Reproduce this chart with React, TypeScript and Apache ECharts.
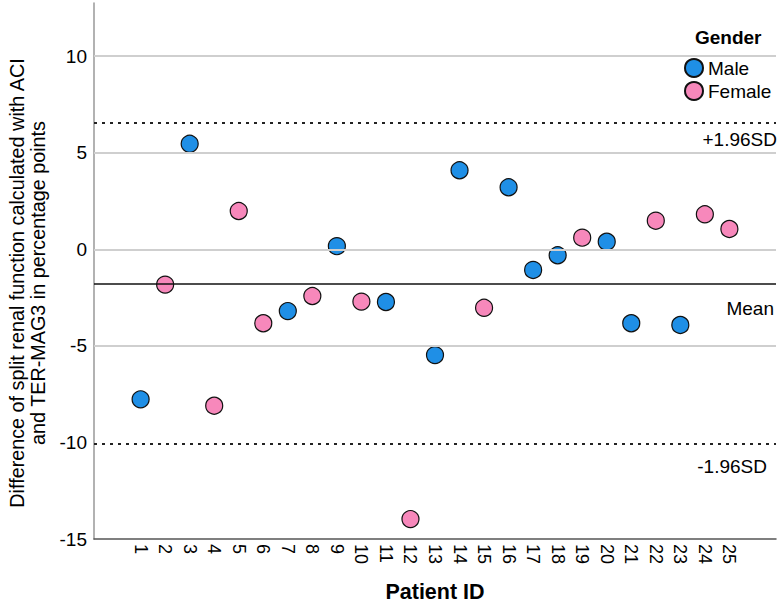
import React, { useEffect, useRef } from "react";
import * as echarts from "echarts";

const patientIds = [1, 2, 3, 4, 5, 6, 7, 8, 9, 10, 11, 12, 13, 14, 15, 16, 17, 18, 19, 20, 21, 22, 23, 24, 25];
const differences = [-7.77, -1.83, 5.46, -8.1, 1.98, -3.83, -3.2, -2.42, 0.16, -2.71, -2.73, -13.97, -5.48, 4.09, -3.03, 3.21, -1.07, -0.31, 0.6, 0.39, -3.83, 1.48, -3.92, 1.81, 1.05];
const genders = ["M", "F", "M", "F", "F", "F", "M", "F", "M", "F", "M", "F", "M", "M", "F", "M", "M", "M", "F", "M", "M", "F", "M", "F", "F"];
const yTicks = [-15, -10, -5, 0, 5, 10];
const gridValues = [10, 5, 0, -5];
const meanDiff = -1.76;
const upperLimit = 6.53;
const lowerLimit = -10.05;

const FONT = "'Liberation Sans', Arial, sans-serif";
const MALE = "#1f8fe6";
const FEMALE = "#f788bb";

export default function App() {
  const ref = useRef<HTMLDivElement>(null);
  useEffect(() => {
    document.body.style.margin = "0";
    if (!ref.current) return;
    const chart = echarts.init(ref.current, undefined, { renderer: "svg" });
    const male = patientIds.map((id, i) => [id, differences[i], genders[i]]).filter((d) => d[2] === "M").map((d) => [d[0], d[1]]);
    const female = patientIds.map((id, i) => [id, differences[i], genders[i]]).filter((d) => d[2] === "F").map((d) => [d[0], d[1]]);
    const pointStyle = (c: string) => ({ color: c, borderColor: "#111", borderWidth: 1.2, opacity: 1 });
    chart.setOption({
      animation: false,
      textStyle: { fontFamily: FONT },
      grid: { left: 94, right: 4, top: 3, bottom: 67, containLabel: false, outerBoundsMode: "none" },
      xAxis: {
        type: "value",
        min: -0.9,
        max: 26.9,
        axisLine: { show: true, onZero: false, lineStyle: { color: "#555", width: 1.5 } },
        axisTick: { show: false },
        splitLine: { show: false },
        axisLabel: { customValues: patientIds, rotate: -90, fontSize: 18, color: "#000", margin: 5, fontFamily: FONT },
        name: "Patient ID",
        nameLocation: "middle",
        nameGap: 42,
        nameTextStyle: { fontSize: 21.5, fontWeight: "bold", color: "#000", fontFamily: FONT },
      },
      yAxis: {
        type: "value",
        min: -15,
        max: 12.75,
        axisLine: { show: true, onZero: false, lineStyle: { color: "#999", width: 1.5 } },
        axisTick: { show: false },
        splitLine: { show: false },
        axisLabel: { customValues: yTicks, fontSize: 19, color: "#000", margin: 7, fontFamily: FONT },
      },
      legend: {
        data: ["Male", "Female"],
        orient: "vertical",
        left: 679,
        top: 53,
        itemWidth: 18,
        itemHeight: 18,
        itemGap: 3,
        icon: "circle",
        textStyle: { fontSize: 19, color: "#000", fontFamily: FONT },
      },
      graphic: [
        {
          type: "text",
          x: 695,
          y: 37,
          style: { text: "Gender", font: `bold 19px ${FONT}`, fill: "#000", textVerticalAlign: "middle" },
        },
        {
          type: "text",
          x: 27,
          y: 283,
          rotation: Math.PI / 2,
          style: {
            text: "Difference of split renal function calculated with ACI\nand TER-MAG3 in percentage points",
            font: `19.8px ${FONT}`,
            fill: "#000",
            textAlign: "center",
            textVerticalAlign: "middle",
            lineHeight: 21,
          },
        },
      ],
      series: [
        {
          type: "scatter",
          name: "grid",
          data: [],
          z: 1,
          silent: true,
          markLine: {
            silent: true,
            symbol: "none",
            animation: false,
            label: { show: false },
            lineStyle: { color: "#cfcfcf", width: 2, type: "solid" },
            data: gridValues.map((v) => ({ yAxis: v })),
          },
        },
        {
          type: "scatter",
          name: "Male",
          data: male,
          symbolSize: 17,
          z: 2,
          itemStyle: pointStyle(MALE),
        },
        {
          type: "scatter",
          name: "Female",
          data: female,
          symbolSize: 17,
          z: 2,
          itemStyle: pointStyle(FEMALE),
        },
        {
          type: "scatter",
          name: "refs",
          data: [],
          z: 3,
          silent: true,
          markLine: {
            silent: true,
            symbol: "none",
            animation: false,
            label: { show: true, position: "insideEndBottom", fontSize: 19, color: "#000", fontFamily: FONT },
            data: [
              {
                yAxis: upperLimit,
                lineStyle: { color: "#222", width: 2, type: [3, 5] },
                label: { formatter: "+1.96SD", distance: [-1, 7] },
              },
              {
                yAxis: meanDiff,
                lineStyle: { color: "#111", width: 1.5, type: "solid" },
                label: { formatter: "Mean", distance: [2, 16] },
              },
              {
                yAxis: lowerLimit,
                lineStyle: { color: "#222", width: 2, type: [3, 5] },
                label: { formatter: "-1.96SD", distance: [9, 14] },
              },
            ],
          },
        },
      ],
    });
    return () => chart.dispose();
  }, []);
  return <div ref={ref} style={{ width: 780, height: 606 }} />;
}
